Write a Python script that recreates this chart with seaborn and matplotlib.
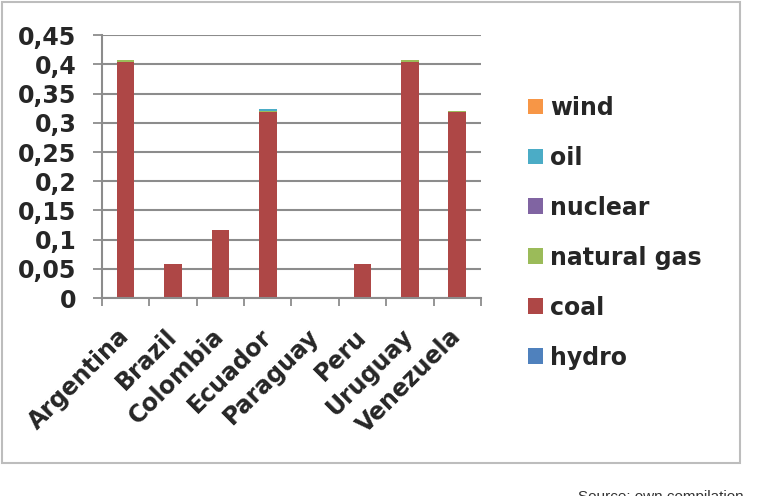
import numpy as np
import pandas as pd
import matplotlib
matplotlib.use('Agg')
import matplotlib.pyplot as plt
import seaborn as sns
from matplotlib.patches import Patch, Rectangle

countries = ['Argentina', 'Brazil', 'Colombia', 'Ecuador', 'Paraguay', 'Peru', 'Uruguay', 'Venezuela']
hydro = [0, 0, 0, 0, 0, 0, 0, 0]
coal = [0.405, 0.058, 0.116, 0.319, 0, 0.058, 0.405, 0.319]
natural_gas = [0.003, 0.001, 0.001, 0.001, 0, 0.001, 0.003, 0.002]
nuclear = [0, 0, 0, 0, 0, 0, 0, 0]
oil = [0, 0, 0, 0.0035, 0, 0, 0, 0]
wind = [0, 0, 0, 0, 0, 0, 0, 0]

sources = ['hydro', 'coal', 'natural gas', 'nuclear', 'oil', 'wind']
colors = ['#4F81BD', '#AE4746', '#9BBB59', '#8064A2', '#4BACC6', '#F79646']
series = [hydro, coal, natural_gas, nuclear, oil, wind]

sns.set_style('white')
plt.rcParams['font.family'] = ['DejaVu Sans']
plt.rcParams['font.weight'] = 'bold'

fig = plt.figure(figsize=(7.64, 4.96), dpi=100)
ax = fig.add_axes([0.1335, 0.399, 0.496, 0.530])

bottom = np.zeros(len(countries))
for name, vals, col in zip(sources, series, colors):
    df = pd.DataFrame({'country': countries, 'value': vals})
    sns.barplot(data=df, x='country', y='value', color=col, width=0.37,
                bottom=bottom, ax=ax, linewidth=0, saturation=1, errorbar=None)
    bottom = bottom + np.array(vals)

ax.set_ylim(0, 0.45)
ax.set_xlim(-0.5, len(countries) - 0.5)
yt = np.arange(0, 0.451, 0.05)
ax.set_yticks(yt)
ax.set_yticklabels(['0' if v == 0 else ('%.2f' % v).rstrip('0').replace('.', ',') for v in yt],
                   fontsize=17, fontweight='bold')
ax.yaxis.grid(True, color='#8c8c8c', linewidth=1.5)
ax.set_axisbelow(True)
ax.set_xlabel('')
ax.set_ylabel('')
ax.set_xticks(range(len(countries)))
ax.set_xticklabels(countries, rotation=45, ha='right', va='center', rotation_mode='anchor',
                   fontsize=17, fontweight='bold')
ax.tick_params(axis='x', which='major', bottom=True, length=0, pad=25)
ax.set_xticks(np.arange(-0.5, len(countries), 1), minor=True)
ax.tick_params(axis='x', which='minor', bottom=True, length=6, color='#8c8c8c', width=1.3,
               direction='out')
ax.tick_params(axis='y', left=True, length=6.5, color='#8c8c8c', width=1.3, direction='out', pad=12)
for s in ['top', 'right']:
    ax.spines[s].set_visible(False)
for s in ['left', 'bottom']:
    ax.spines[s].set_color('#8c8c8c')
    ax.spines[s].set_linewidth(1.5)

handles = [Patch(facecolor=c, edgecolor='none') for c in colors[::-1]]
fig.legend(handles, sources[::-1], loc='upper left', bbox_to_anchor=(0.691, 0.807),
           frameon=False, prop={'weight': 'bold', 'size': 17},
           handlelength=0.65, handleheight=0.65, handletextpad=0.3, labelspacing=1.1,
           borderaxespad=0, borderpad=0)

fig.patches.append(Rectangle((0.003, 0.067), 0.965, 0.928, transform=fig.transFigure,
                             fill=False, edgecolor='#bdbdbd', linewidth=1.5))
fig.text(0.757, 0.013, 'Source: own compilation', fontsize=11, fontweight='normal',
         family='Liberation Sans', color='#333333', va='top')

fig.savefig('out.png', dpi=100)
